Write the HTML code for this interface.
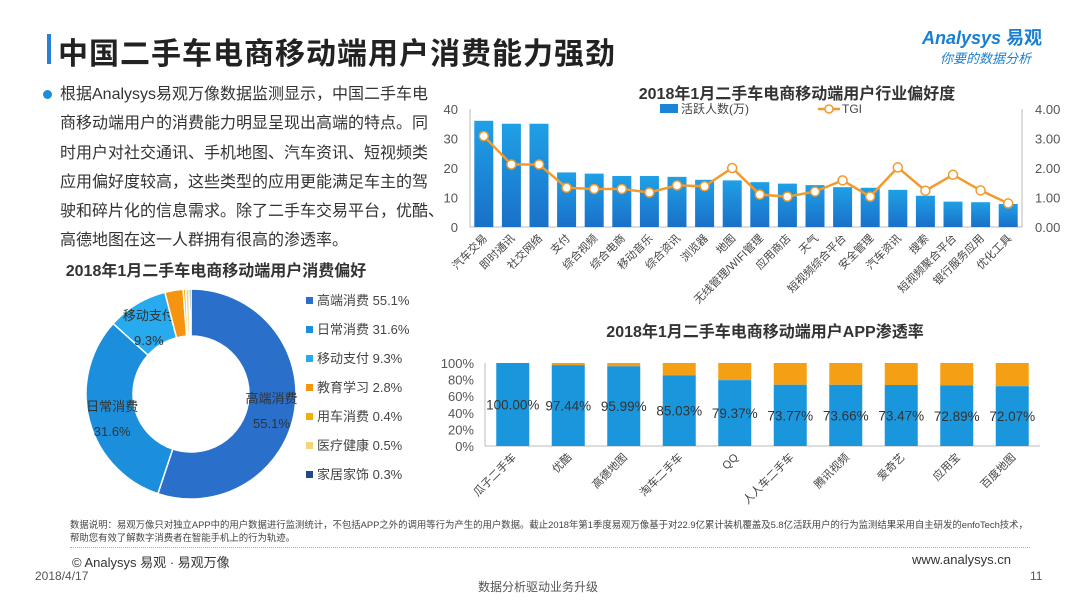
<!DOCTYPE html>
<html><head><meta charset="utf-8">
<style>
*{margin:0;padding:0;box-sizing:border-box}
body{width:1080px;height:608px;background:#fff;position:relative;overflow:hidden;font-family:"Liberation Sans","Noto Sans CJK SC",sans-serif;color:#333}
.abs{position:absolute}
</style></head><body>
<div class="abs" style="left:47px;top:34px;width:4px;height:30px;background:#2a7fd4"></div>
<div class="abs" style="left:58px;top:29px;font-size:30px;letter-spacing:1px;font-weight:bold;color:#222;white-space:nowrap">中国二手车电商移动端用户消费能力强劲</div>
<div class="abs" style="left:922px;top:24px;font-size:18px;color:#1a7fd0;font-weight:bold;font-style:italic">Analysys <span style="font-style:normal">易观</span></div>
<div class="abs" style="left:940px;top:48px;font-size:13px;color:#1a7fd0;font-style:italic">你要的数据分析</div>

<div class="abs" style="left:43px;top:90px;width:9px;height:9px;border-radius:50%;background:#1a90d8"></div>
<div class="abs" style="left:60px;top:80px;white-space:nowrap;font-size:16px;line-height:29.3px;color:#333">根据Analysys易观万像数据监测显示，中国二手车电<br>商移动端用户的消费能力明显呈现出高端的特点。同<br>时用户对社交通讯、手机地图、汽车资讯、短视频类<br>应用偏好度较高，这些类型的应用更能满足车主的驾<br>驶和碎片化的信息需求。除了二手车交易平台，优酷、<br>高德地图在这一人群拥有很高的渗透率。</div>

<svg class="abs" style="left:0;top:0" width="1080" height="608">
<g id="g1"></g><g id="g2"></g><g id="g3"></g>
</svg>

<div class="abs" style="left:70px;top:518px;width:960px;font-size:9.4px;line-height:13px;color:#444">数据说明：易观万像只对独立APP中的用户数据进行监测统计，不包括APP之外的调用等行为产生的用户数据。截止2018年第1季度易观万像基于对22.9亿累计装机覆盖及5.8亿活跃用户的行为监测结果采用自主研发的enfoTech技术，帮助您有效了解数字消费者在智能手机上的行为轨迹。</div>
<div class="abs" style="left:70px;top:547px;width:960px;border-top:1px dotted #aaa"></div>
<div class="abs" style="left:72px;top:552px;font-size:13px;color:#333">© Analysys 易观 · 易观万像</div>
<div class="abs" style="left:912px;top:552px;font-size:13px;color:#333">www.analysys.cn</div>
<div class="abs" style="left:35px;top:569px;font-size:12px;color:#555">2018/4/17</div>
<div class="abs" style="left:1030px;top:569px;font-size:12px;color:#555">11</div>
<div class="abs" style="left:478px;top:578px;font-size:12px;color:#555">数据分析驱动业务升级</div>

<script>
const cats1=["汽车交易","即时通讯","社交网络","支付","综合视频","综合电商","移动音乐","综合资讯","浏览器","地图","无线管理/WIFI管理","应用商店","天气","短视频综合平台","安全管理","汽车资讯","搜索","短视频聚合平台","银行服务应用","优化工具"];
const users=[36,35,35,18.5,18.1,17.3,17.3,17,16,15.8,15.2,14.7,14.2,13.5,13.3,12.6,10.6,8.6,8.4,7.8];
const tgi=[3.08,2.12,2.12,1.33,1.29,1.29,1.17,1.41,1.38,2.0,1.1,1.03,1.2,1.58,1.03,2.02,1.23,1.77,1.24,0.8];
const leftTicks=[0,10,20,30,40];
const rightTicks=["0.00","1.00","2.00","3.00","4.00"];
const cats2=["瓜子二手车","优酷","高德地图","淘车二手车","QQ","人人车二手车","腾讯视频","爱奇艺","应用宝","百度地图"];
const pen=[100,97.44,95.99,85.03,79.37,73.77,73.66,73.47,72.89,72.07];
const pctTicks=[0,20,40,60,80,100];
const pieLabels=["高端消费","日常消费","移动支付","教育学习","用车消费","医疗健康","家居家饰"];
const pieVals=[55.1,31.6,9.3,2.8,0.4,0.5,0.3];
const pieColors=["#2a6fc9","#1c8fdc","#27aaee","#f5950f","#f0b000","#f2d77a","#1e4a86"];

const NS="http://www.w3.org/2000/svg";
function mk(p,t,a,txt){const e=document.createElementNS(NS,t);for(const k in a)e.setAttribute(k,a[k]);if(txt!==undefined)e.textContent=txt;p.appendChild(e);return e;}
const F='"Liberation Sans","Noto Sans CJK SC",sans-serif';

// Chart 1
const g1=document.getElementById('g1');
const x0=470,x1=1022,yT=109,yB=227;
const bw1=(x1-x0)/cats1.length;
const yL=v=>yB-(v/40)*(yB-yT);
const yR=v=>yB-(v/4)*(yB-yT);
let t=mk(g1,'text',{x:797,y:99,'text-anchor':'middle','font-size':16,'font-weight':'bold',fill:'#333','font-family':F},'2018年1月二手车电商移动端用户行业偏好度');

let e=mk(g1,'rect',{x:660,y:104,width:18,height:9,fill:'#1a84d6'});

mk(g1,'text',{x:681,y:113,'font-size':12,fill:'#444','font-family':F},'活跃人数(万)');
e=mk(g1,'line',{x1:818,y1:109,x2:840,y2:109,stroke:'#f29a2e','stroke-width':2.5});

mk(g1,'circle',{cx:829,cy:109,r:4,fill:'#fff',stroke:'#f29a2e','stroke-width':1.5});
mk(g1,'text',{x:842,y:113,'font-size':12,fill:'#444','font-family':F},'TGI');
mk(g1,'line',{x1:x0,y1:yT,x2:x0,y2:yB,stroke:'#bbb'});
mk(g1,'line',{x1:x1,y1:yT,x2:x1,y2:yB,stroke:'#bbb'});
mk(g1,'line',{x1:x0,y1:yB,x2:x1,y2:yB,stroke:'#bbb'});
leftTicks.forEach((v,i)=>{
 e=mk(g1,'text',{x:458,y:yL(v)+5,'text-anchor':'end','font-size':13,fill:'#555','font-family':F},String(v));
 
 e=mk(g1,'text',{x:1035,y:yR(i)+5,'font-size':13,fill:'#555','font-family':F},rightTicks[i]);
 
});
const grad=mk(mk(g1,'defs',{}),'linearGradient',{id:'bg',x1:0,y1:0,x2:0,y2:1});
mk(grad,'stop',{offset:0,'stop-color':'#1fa0e6'});mk(grad,'stop',{offset:1,'stop-color':'#1a70c8'});
let pts=[];
cats1.forEach((c,i)=>{
 const cx=x0+bw1*(i+0.5);
 e=mk(g1,'rect',{x:cx-9.5,y:yL(users[i]),width:19,height:yB-yL(users[i]),fill:'url(#bg)'});
 
 pts.push(cx+','+yR(tgi[i]));
 e=mk(g1,'text',{x:cx+4,y:yB+12,'text-anchor':'end','font-size':11,fill:'#444','font-family':F,transform:`rotate(-45 ${cx+4} ${yB+12})`},c);
 
});
e=mk(g1,'polyline',{points:pts.join(' '),fill:'none',stroke:'#f29a2e','stroke-width':2.5});

tgi.forEach((v,i)=>{
 e=mk(g1,'circle',{cx:x0+bw1*(i+0.5),cy:yR(v),r:4.5,fill:'#fff',stroke:'#f29a2e','stroke-width':1.5});
 
});

// Chart 2
const g2=document.getElementById('g2');
const a0=485,a1=1040,bT=363,bB=446;
const bw2=(a1-a0)/cats2.length;
const yP=v=>bB-(v/100)*(bB-bT);
t=mk(g2,'text',{x:765,y:337,'text-anchor':'middle','font-size':16,'font-weight':'bold',fill:'#333','font-family':F},'2018年1月二手车电商移动端用户APP渗透率');

mk(g2,'line',{x1:a0,y1:bT,x2:a0,y2:bB,stroke:'#bbb'});
mk(g2,'line',{x1:a0,y1:bB,x2:a1,y2:bB,stroke:'#bbb'});
pctTicks.forEach(v=>{
 e=mk(g2,'text',{x:474,y:yP(v)+5,'text-anchor':'end','font-size':13,fill:'#555','font-family':F},v+'%');
 
});
cats2.forEach((c,i)=>{
 const cx=a0+bw2*(i+0.5);
 e=mk(g2,'rect',{x:cx-16.5,y:yP(100),width:33,height:yP(pen[i])-yP(100),fill:'#f5a014'});
 
 e=mk(g2,'rect',{x:cx-16.5,y:yP(pen[i]),width:33,height:bB-yP(pen[i]),fill:'#1a96dc'});
 
 e=mk(g2,'text',{x:cx,y:yP(pen[i]/2)+5,'text-anchor':'middle','font-size':13.5,fill:'#333','font-family':F},pen[i].toFixed(2)+'%');
 
 e=mk(g2,'text',{x:cx+4,y:bB+12,'text-anchor':'end','font-size':11,fill:'#444','font-family':F,transform:`rotate(-45 ${cx+4} ${bB+12})`},c);
 
});

// Donut
const g3=document.getElementById('g3');
t=mk(g3,'text',{x:216,y:276,'text-anchor':'middle','font-size':16,'font-weight':'bold',fill:'#333','font-family':F},'2018年1月二手车电商移动端用户消费偏好');

const cx=191,cy=394,R=105,r=58;
const tot=pieVals.reduce((a,b)=>a+b,0);
let ang=0;
function P(rad,a){return [cx+rad*Math.sin(a),cy-rad*Math.cos(a)];}
pieVals.forEach((v,i)=>{
 const a2=ang+v/tot*2*Math.PI;const lg=a2-ang>Math.PI?1:0;
 const [p1x,p1y]=P(R,ang),[p2x,p2y]=P(R,a2),[q1x,q1y]=P(r,a2),[q2x,q2y]=P(r,ang);
 e=mk(g3,'path',{d:`M${p1x},${p1y}A${R},${R} 0 ${lg} 1 ${p2x},${p2y}L${q1x},${q1y}A${r},${r} 0 ${lg} 0 ${q2x},${q2y}Z`,fill:pieColors[i],stroke:'#fff','stroke-width':1.5});
 
 if(v>5){const m=(ang+a2)/2;const[lx,ly]=P((R+r)/2,m);
  e=mk(g3,'text',{x:lx,y:ly-4,'text-anchor':'middle','font-size':13,fill:'#333','font-family':F},pieLabels[i]);
  
  mk(g3,'text',{x:lx,y:ly+21,'text-anchor':'middle','font-size':13,fill:'#333','font-family':F},v+'%');}
 ang=a2;
 e=mk(g3,'rect',{x:306,y:297+i*29,width:7,height:7,fill:pieColors[i]});
 
 e=mk(g3,'text',{x:317,y:305+i*29,'font-size':13,fill:'#444','font-family':F},pieLabels[i]+' '+v+'%');
 
});
</script>
</body></html>
